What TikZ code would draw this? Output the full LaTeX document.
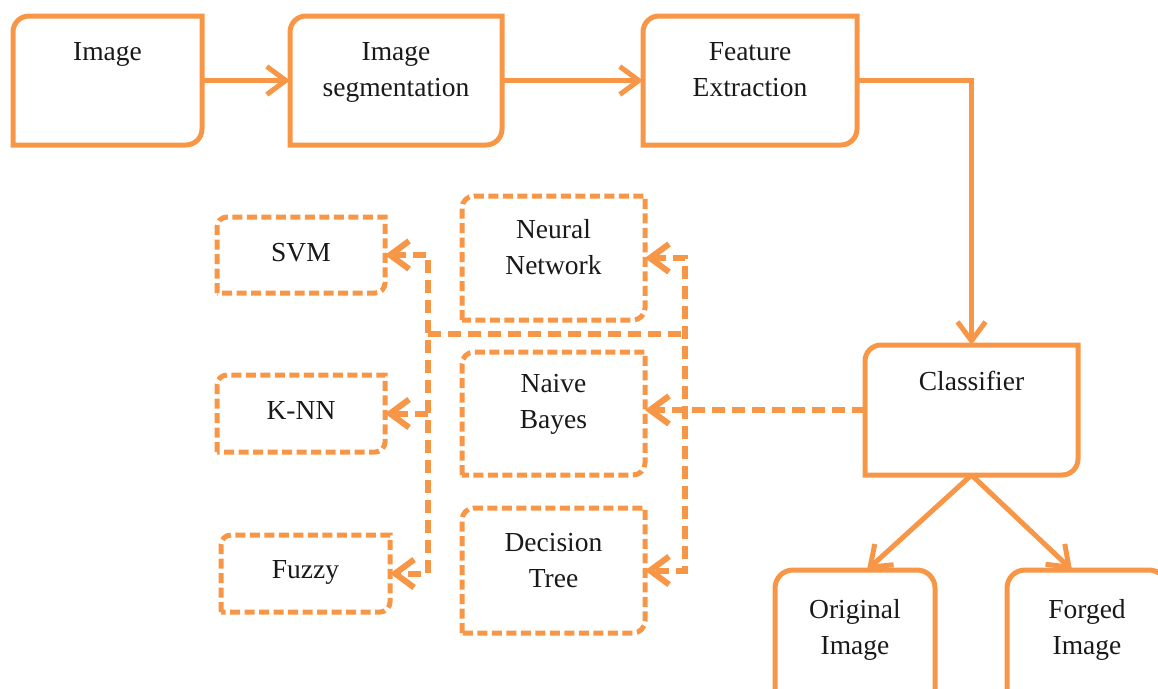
\documentclass[tikz,border=0pt]{standalone}
\usepackage{fontspec}
\setmainfont{Liberation Serif}
\usetikzlibrary{arrows.meta,calc}
\definecolor{org}{RGB}{247,150,70}
\tikzset{
  boxnode/.style={rectangle,draw=none,inner sep=0pt,outer sep=0pt},
  lbl/.style={anchor=north,inner sep=0pt,align=center,font=\fontsize{27.5}{36}\selectfont,text=black!90},
  solidline/.style={draw=org,line width=5pt},
  dashbox/.style={draw=org,line width=5pt,dash pattern=on 10pt off 4.5pt},
  dashline/.style={draw=org,line width=6pt,dash pattern=on 13pt off 7pt},
  tip/.style={-{Straight Barb[length=19pt,width=28pt]}},
  tips/.style={{Straight Barb[length=19pt,width=28pt]}-{Straight Barb[length=19pt,width=28pt]}},
}
\newcommand\tlbrbox[3]{%
  \draw[#1] (#2.south west) -- ([yshift=-#3]#2.north west)
    arc[start angle=180,end angle=90,radius=#3] -- (#2.north east)
    -- ([yshift=#3]#2.south east)
    arc[start angle=0,end angle=-90,radius=#3] -- cycle;}
\begin{document}
\begin{tikzpicture}[x=1pt,y=1pt]
\useasboundingbox (0,0) rectangle (1158,-688);
\clip (0,0) rectangle (1158,-688);
% main boxes
\node[boxnode,minimum width=189pt,minimum height=129pt] (img) at (107.5,-80.5) {};
\node[boxnode,minimum width=212pt,minimum height=129pt] (seg) at (396,-80.5) {};
\node[boxnode,minimum width=214pt,minimum height=129pt] (fe) at (750,-80.5) {};
\node[boxnode,minimum width=213pt,minimum height=130pt] (cls) at (971.5,-410) {};
\node[boxnode,minimum width=160pt,minimum height=150pt] (orig) at (855,-645) {};
\node[boxnode,minimum width=160pt,minimum height=150pt] (fg) at (1087,-645) {};
% dashed boxes
\node[boxnode,minimum width=168pt,minimum height=76pt] (svm) at (301,-255) {};
\node[boxnode,minimum width=168pt,minimum height=77pt] (kn) at (301,-413.5) {};
\node[boxnode,minimum width=169pt,minimum height=77pt] (fz) at (305.5,-573.5) {};
\node[boxnode,minimum width=183pt,minimum height=124pt] (nn) at (553.5,-258) {};
\node[boxnode,minimum width=183pt,minimum height=123pt] (nb) at (553.5,-413.5) {};
\node[boxnode,minimum width=183pt,minimum height=125pt] (dt) at (553.5,-570.5) {};
% outlines
\tlbrbox{solidline}{img}{16pt}
\tlbrbox{solidline}{seg}{16pt}
\tlbrbox{solidline}{fe}{16pt}
\tlbrbox{solidline}{cls}{16pt}
\draw[solidline,rounded corners=18pt] (orig.south west) rectangle (orig.north east);
\draw[solidline,rounded corners=18pt] (fg.south west) rectangle (fg.north east);
\tlbrbox{dashbox}{svm}{10pt}
\tlbrbox{dashbox}{kn}{10pt}
\tlbrbox{dashbox}{fz}{10pt}
\tlbrbox{dashbox}{nn}{12pt}
\tlbrbox{dashbox}{nb}{12pt}
\tlbrbox{dashbox}{dt}{12pt}
% labels
\node[lbl] (imgT) at ([yshift=-26pt]img.north) {Image};
\node[lbl] (segT) at ([yshift=-26pt]seg.north) {Image\\segmentation};
\node[lbl] (feT) at ([yshift=-26pt]fe.north) {Feature\\Extraction};
\node[lbl] (clsT) at ([yshift=-26pt]cls.north) {Classifier};
\node[lbl] (origT) at ([yshift=-29pt]orig.north) {Original\\Image};
\node[lbl] (fgT) at ([yshift=-29pt]fg.north) {Forged\\Image};
\node[lbl] (svmT) at ([yshift=-26pt]svm.north) {SVM};
\node[lbl] (knT) at ([yshift=-26pt]kn.north) {K-NN};
\node[lbl] (fzT) at ([yshift=-25pt]fz.north) {Fuzzy};
\node[lbl] (nnT) at ([yshift=-23pt]nn.north) {Neural\\Network};
\node[lbl] (nbT) at ([yshift=-22pt]nb.north) {Naive\\Bayes};
\node[lbl] (dtT) at ([yshift=-25pt]dt.north) {Decision\\Tree};
% solid connectors
\draw[solidline,tip] (img.east) -- (seg.west);
\draw[solidline,tip] (seg.east) -- (fe.west);
\draw[solidline,tip] (fe.east) -| (cls.north);
\draw[solidline,tip] (cls.south) -- ([xshift=12pt]orig.north);
\draw[solidline,tip] (cls.south) -- ([xshift=-15pt]fg.north);
% dashed connectors
\coordinate (L) at (428,-334);
\coordinate (R) at (685,-334);
\draw[dashline,tip] (cls.west) -- (cls.west -| nb.east);
\draw[dashline,tips] (svm.east) -- (L |- svm.east) -- (L |- fz.east) -- (fz.east);
\draw[dashline,tip] (L |- kn.east) -- (kn.east);
\draw[dashline] (L) -- (R);
\draw[dashline,tips] (nn.east) -- (R |- nn.east) -- (R |- dt.east) -- (dt.east);
\end{tikzpicture}
\end{document}
